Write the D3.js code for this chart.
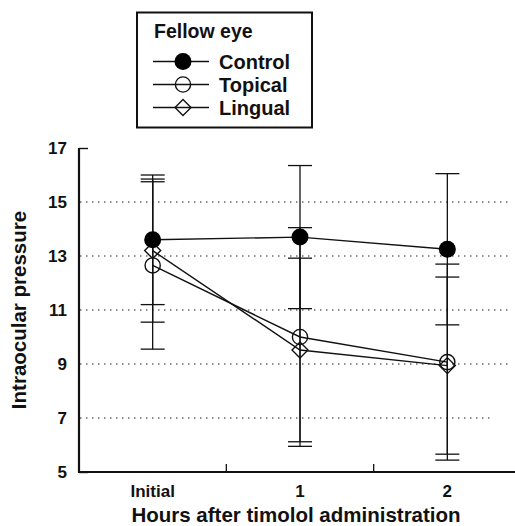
<!DOCTYPE html>
<html>
<head>
<meta charset="utf-8">
<script src="https://cdn.jsdelivr.net/npm/d3@7"></script>
<style>
  body { margin: 0; background: #fff; }
  svg { display: block; font-family: "Liberation Sans", Arial, Helvetica, sans-serif; font-weight: bold; }
</style>
</head>
<body>
<div id="chart"></div>
<script>
// data
var timePoints = ["Initial", "1", "2"];
var seriesNames = ["Control", "Topical", "Lingual"];
var controlMean = [13.6, 13.7, 13.25];
var controlErr = [2.4, 2.65, 2.8];
var topicalMean = [12.65, 10.0, 9.07];
var topicalErr = [3.1, 4.05, 3.63];
var lingualMean = [13.2, 9.52, 8.94];
var lingualErr = [2.65, 3.4, 3.28];
var yTicks = [5, 7, 9, 11, 13, 15, 17];
var gridValues = [7, 9, 11, 13, 15];

var svgWidth = 515;
var svgHeight = 526;

var svg = d3.select("#chart")
    .append("svg")
    .attr("width", svgWidth)
    .attr("height", svgHeight);

// scales
var x = d3.scaleBand()
    .domain(timePoints)
    .range([79, 521])
    .padding(0);

var y = d3.scaleLinear()
    .domain([5, 17])
    .range([472, 148]);

function cx(d) { return x(d) + x.bandwidth() / 2; }

//Gridlines
svg.append("g")
    .selectAll("line")
    .data(gridValues)
    .enter()
    .append("line")
    .attr("x1", 80)
    .attr("x2", d => d === 7 ? 494 : 512)
    .attr("y1", d => y(d))
    .attr("y2", d => y(d))
    .attr("stroke", "#222")
    .attr("stroke-width", 1.2)
    .attr("stroke-dasharray", "1.5,4.5");

//Axis
var leftAxis = d3.axisLeft(y)
    .tickValues(yTicks)
    .tickSize(-9)
    .tickPadding(12);

var yAxis = svg.append("g")
    .attr("transform", "translate(79,0)")
    .call(leftAxis);

var bottomAxis = d3.axisBottom(x)
    .tickSize(0)
    .tickPadding(13);

var xAxis = svg.append("g")
    .attr("transform", `translate(0, ${y(5)})`)
    .call(bottomAxis);

[yAxis, xAxis].forEach(function(g) {
    g.select(".domain").remove();
    g.selectAll("text")
        .attr("fill", "#111")
        .attr("font-size", "17px")
        .attr("font-weight", "bold")
        .attr("font-family", "Liberation Sans, Arial, sans-serif");
    g.selectAll("line").attr("stroke", "#111").attr("stroke-width", 1.4);
});
yAxis.selectAll(".tick").filter(d => d !== 17 && d !== 5).select("line").remove();

// band boundary ticks on x axis
svg.append("g")
    .selectAll("line")
    .data(timePoints.slice(1))
    .enter()
    .append("line")
    .attr("x1", d => x(d))
    .attr("x2", d => x(d))
    .attr("y1", y(5))
    .attr("y2", y(5) - 8)
    .attr("stroke", "#111")
    .attr("stroke-width", 1.3);

// axis lines
svg.append("path")
    .attr("d", `M79,${y(17)}V${y(5)}H515`)
    .attr("fill", "none")
    .attr("stroke", "#111")
    .attr("stroke-width", 2.2);

//Labels
svg.append("text")
    .attr("x", 296)
    .attr("y", 522)
    .attr("text-anchor", "middle")
    .attr("font-size", "20.5px")
    .attr("fill", "#111")
    .text("Hours after timolol administration");

svg.append("text")
    .attr("transform", `translate(26, ${y(11)}) rotate(-90)`)
    .attr("text-anchor", "middle")
    .attr("font-size", "20.5px")
    .attr("fill", "#111")
    .text("Intraocular pressure");

// series
var series = [
    {name: "Control", mean: controlMean, err: controlErr},
    {name: "Topical", mean: topicalMean, err: topicalErr},
    {name: "Lingual", mean: lingualMean, err: lingualErr}
];

var line = d3.line()
    .x(d => cx(d.t))
    .y(d => y(d.v));

var plot = svg.append("g");

// error bars
series.forEach(function(s) {
    var pts = timePoints.map((t, i) => ({t: t, v: s.mean[i], e: s.err[i]}));
    var eb = plot.append("g")
        .selectAll("g")
        .data(pts)
        .enter()
        .append("g")
        .attr("stroke", "#111")
        .attr("stroke-width", 1.3);
    eb.append("line")
        .attr("x1", d => cx(d.t)).attr("x2", d => cx(d.t))
        .attr("y1", d => y(d.v + d.e)).attr("y2", d => y(d.v - d.e));
    eb.append("line")
        .attr("x1", d => cx(d.t) - 12).attr("x2", d => cx(d.t) + 12)
        .attr("y1", d => y(d.v + d.e)).attr("y2", d => y(d.v + d.e));
    eb.append("line")
        .attr("x1", d => cx(d.t) - 12).attr("x2", d => cx(d.t) + 12)
        .attr("y1", d => y(d.v - d.e)).attr("y2", d => y(d.v - d.e));
});

// connecting lines
series.forEach(function(s) {
    var pts = timePoints.map((t, i) => ({t: t, v: s.mean[i]}));
    plot.append("path")
        .datum(pts)
        .attr("d", line)
        .attr("fill", "none")
        .attr("stroke", "#111")
        .attr("stroke-width", 1.4);
});

// markers
function drawMarker(g, name) {
    if (name === "Control") {
        g.append("circle").attr("r", 8.5).attr("fill", "#000");
    } else if (name === "Topical") {
        g.append("circle").attr("r", 7.6).attr("fill", "none")
            .attr("stroke", "#111").attr("stroke-width", 1.4);
    } else {
        g.append("path").attr("d", "M0,-8L8,0L0,8L-8,0Z").attr("fill", "none")
            .attr("stroke", "#111").attr("stroke-width", 1.4);
    }
}

[series[2], series[1], series[0]].forEach(function(s) {
    timePoints.forEach(function(t, i) {
        var g = plot.append("g")
            .attr("transform", `translate(${cx(t)}, ${y(s.mean[i])})`);
        drawMarker(g, s.name);
    });
});

// legend
var legend = svg.append("g");
legend.append("rect")
    .attr("x", 137)
    .attr("y", 12.5)
    .attr("width", 175)
    .attr("height", 115)
    .attr("fill", "#fff")
    .attr("stroke", "#111")
    .attr("stroke-width", 2);

legend.append("text")
    .attr("x", 154)
    .attr("y", 38)
    .attr("font-size", "19.5px")
    .attr("fill", "#111")
    .text("Fellow eye");

var items = legend.selectAll(".item")
    .data(seriesNames)
    .enter()
    .append("g")
    .attr("class", "item")
    .attr("transform", (d, i) => `translate(0, ${61.5 + i * 23})`);

items.append("line")
    .attr("x1", 153).attr("x2", 209)
    .attr("stroke", "#111").attr("stroke-width", 1.4);

items.each(function(d) {
    var g = d3.select(this).append("g").attr("transform", "translate(183,0)");
    drawMarker(g, d);
});

items.append("text")
    .attr("x", 219)
    .attr("y", 7)
    .attr("font-size", "20px")
    .attr("fill", "#111")
    .text(d => d);
</script>
</body>
</html>
